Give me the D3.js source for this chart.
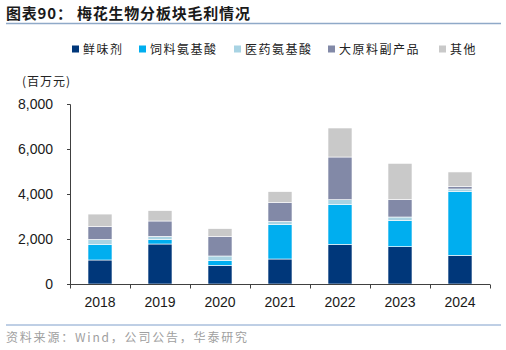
<!DOCTYPE html>
<html><head><meta charset="utf-8">
<script src="https://cdn.jsdelivr.net/npm/d3@7"></script>
<style>
html,body{margin:0;padding:0;background:#fff;}
svg{display:block;font-family:"Liberation Sans",Arial,sans-serif;}
.cjk{font-family:"Noto Sans CJK SC","Liberation Sans",sans-serif;}
</style></head>
<body>
<svg id="c" width="506" height="350"></svg>
<script>
const years = ["2018","2019","2020","2021","2022","2023","2024"];
const seriesNames = ["鲜味剂","饲料氨基酸","医药氨基酸","大原料副产品","其他"];
const xianweiji = [1067,1778,830,1111,1763,1659,1274];
const siliao    = [693,193,222,1541,1778,1156,2830];
const yiyao     = [222,148,193,133,207,163,119];
const dayuanliao= [578,681,874,844,1896,785,119];
const qita      = [548,459,341,474,1289,1600,637];
const yTicks = [0,2000,4000,6000,8000];
const colors = ["#00377A","#00AEEF","#A8D3E3","#8289A7","#C9C9C9"];

const seriesValues = [xianweiji, siliao, yiyao, dayuanliao, qita];
const rows = years.map((y,i)=>{const r={year:y}; seriesNames.forEach((n,k)=>r[n]=seriesValues[k][i]); return r;});

const svg = d3.select("#c");
const x = d3.scaleBand().domain(years).range([70,490]).paddingInner(0.6).paddingOuter(0.3);
const y = d3.scaleLinear().domain([0,8000]).range([284,104]);

// title
svg.append("text").attr("class","cjk").attr("x",6).attr("y",19)
  .attr("font-size",15).attr("font-weight","bold").attr("fill","#1a1a1a")
  .attr("letter-spacing",0.8).text("图表90：  梅花生物分板块毛利情况");
svg.append("line").attr("x1",6).attr("x2",501).attr("y1",23.5).attr("y2",23.5)
  .attr("stroke","#8FA9C8").attr("stroke-width",1.5);

// legend
const legX = [72,139,234,328,439];
const leg = svg.append("g");
seriesNames.forEach((n,k)=>{
  leg.append("rect").attr("x",legX[k]).attr("y",45.5).attr("width",7).attr("height",7).attr("fill",colors[k]);
  leg.append("text").attr("class","cjk").attr("x",legX[k]+11).attr("y",54)
    .attr("font-size",12).attr("letter-spacing",1.5).attr("fill","#222").text(n);
});

// unit
svg.append("text").attr("class","cjk").attr("x",22).attr("y",86).attr("font-size",12)
  .attr("letter-spacing",1).attr("fill","#222").text("(百万元)");

// bars
const stack = d3.stack().keys(seriesNames)(rows);
svg.append("g").selectAll("g").data(stack).join("g")
  .attr("fill",(d,i)=>colors[i])
  .selectAll("rect").data(d=>d).join("rect")
  .attr("x",d=>x(d.data.year)).attr("width",x.bandwidth())
  .attr("y",d=>y(d[1])).attr("height",d=>y(d[0])-y(d[1]))
  .attr("stroke","#fff").attr("stroke-width",0.6);

// y axis
const ya = svg.append("g").attr("transform","translate(70,0)")
  .call(d3.axisLeft(y).tickValues(yTicks).tickFormat(d3.format(",")).tickSize(3).tickPadding(14));
ya.select(".domain").attr("stroke","#404040").attr("d","M-3,104.5H0.5V284.5");
ya.selectAll(".tick line").attr("stroke","#404040");
ya.selectAll("text").attr("font-size",14).attr("fill","#1a1a1a").attr("font-family","Liberation Sans, Arial, sans-serif");

// x axis
const xa = svg.append("g").attr("transform","translate(0,284.5)");
xa.append("line").attr("x1",70).attr("x2",490).attr("stroke","#404040");
const bounds = d3.range(years.length+1).map(i=>70+i*x.step());
xa.selectAll("line.tk").data(bounds).join("line").attr("class","tk")
  .attr("x1",d=>d+0.5).attr("x2",d=>d+0.5).attr("y1",0).attr("y2",4).attr("stroke","#404040");
xa.selectAll("text").data(years).join("text")
  .attr("x",d=>x(d)+x.bandwidth()/2).attr("y",22).attr("text-anchor","middle")
  .attr("font-size",14).attr("fill","#1a1a1a").text(d=>d);

// footer
svg.append("line").attr("x1",6).attr("x2",501).attr("y1",325).attr("y2",325)
  .attr("stroke","#7F9FCB").attr("stroke-width",1);
svg.append("text").attr("class","cjk").attr("x",6).attr("y",342).attr("font-size",12)
  .attr("letter-spacing",1.8).attr("fill","#a0a0a0").text("资料来源：Wind，公司公告，华泰研究");
</script>
</body></html>
